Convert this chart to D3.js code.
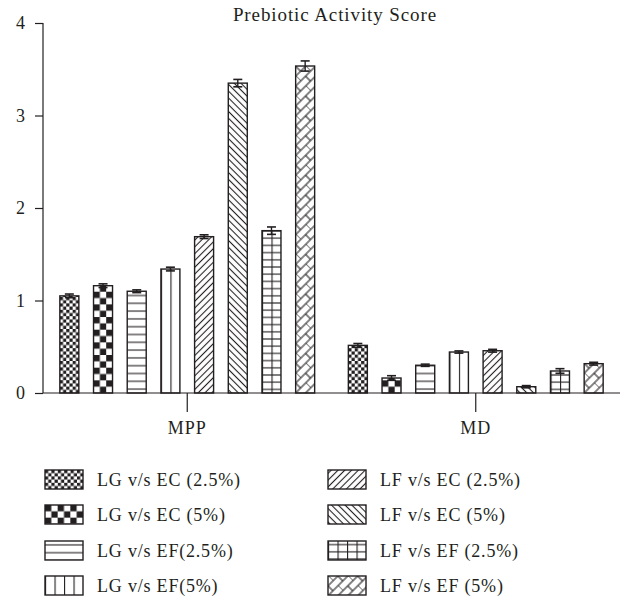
<!DOCTYPE html>
<html>
<head>
<meta charset="utf-8">
<script src="https://cdn.jsdelivr.net/npm/d3@7"></script>
<style>
  html, body { margin: 0; padding: 0; background: #fff; }
  svg { display: block; }
  text { font-family: "Liberation Serif", "DejaVu Serif", serif; fill: #231f20; }
</style>
</head>
<body>
<svg id="chart" width="622" height="599"></svg>
<script>
// Groups on the x axis
const groups = ["MPP", "MD"];
// Comparison series, in drawing order
const series = [
  "LG v/s EC (2.5%)", "LG v/s EC (5%)", "LG v/s EF(2.5%)", "LG v/s EF(5%)",
  "LF v/s EC (2.5%)", "LF v/s EC (5%)", "LF v/s EF (2.5%)", "LF v/s EF (5%)"
];
// Mean scores per series for each group
const mppValues = [1.05, 1.16, 1.10, 1.34, 1.69, 3.35, 1.755, 3.535];
const mdValues  = [0.515, 0.162, 0.30, 0.443, 0.457, 0.068, 0.238, 0.317];
// Error half-widths
const mppErrors = [0.02, 0.02, 0.015, 0.02, 0.02, 0.04, 0.04, 0.055];
const mdErrors  = [0.02, 0.025, 0.012, 0.012, 0.015, 0.012, 0.025, 0.015];
// Y axis ticks
const yTicks = [0, 1, 2, 3, 4];
const title = "Prebiotic Activity Score";

const values = { MPP: mppValues, MD: mdValues };
const errors = { MPP: mppErrors, MD: mdErrors };

const svg = d3.select("#chart");
const ink = "#231f20";

const x0 = d3.scaleBand().domain(groups).range([43, 620]).paddingInner(0).paddingOuter(0);
const x1 = d3.scaleBand().domain(series).range([0, x0.bandwidth()]).paddingInner(0.436).paddingOuter(0.5);
const y = d3.scaleLinear().domain([0, 4]).range([393, 23]);

// ---------- fill patterns ----------
const defs = svg.append("defs");
const patIds = ["p-smallcheck", "p-bigcheck", "p-hlines", "p-vlines", "p-fdiag", "p-bdiag", "p-grid", "p-brick"];

function pattern(id, w, h, transform) {
  const p = defs.append("pattern").attr("id", id)
    .attr("patternUnits", "userSpaceOnUse")
    .attr("width", w).attr("height", h);
  if (transform) p.attr("patternTransform", transform);
  p.append("rect").attr("width", w).attr("height", h).attr("fill", "#fff");
  return p;
}
const lw = 1.1;

// small checkerboard
{
  const c = 3.2;
  const p = pattern(patIds[0], 2 * c, 2 * c);
  p.append("rect").attr("x", 0).attr("y", 0).attr("width", c).attr("height", c).attr("fill", ink);
  p.append("rect").attr("x", c).attr("y", c).attr("width", c).attr("height", c).attr("fill", ink);
}
// large checkerboard
{
  const c = 6.33;
  const p = pattern(patIds[1], 2 * c, 2 * c);
  p.append("rect").attr("x", 0).attr("y", 0).attr("width", c).attr("height", c).attr("fill", ink);
  p.append("rect").attr("x", c).attr("y", c).attr("width", c).attr("height", c).attr("fill", ink);
}
// horizontal lines
{
  const s = 7.8;
  const p = pattern(patIds[2], 10, s);
  p.append("line").attr("x1", 0).attr("x2", 10).attr("y1", s / 2).attr("y2", s / 2)
    .attr("stroke", ink).attr("stroke-width", lw);
}
// vertical lines
{
  const s = 9.5;
  const p = pattern(patIds[3], s, 10);
  p.append("line").attr("x1", 0).attr("x2", 0).attr("y1", 0).attr("y2", 10)
    .attr("stroke", ink).attr("stroke-width", lw * 2);
}
// forward diagonal "/"
{
  const s = 4.8;
  const p = pattern(patIds[4], s, 10, "rotate(45)");
  p.append("line").attr("x1", s / 2).attr("x2", s / 2).attr("y1", 0).attr("y2", 10)
    .attr("stroke", ink).attr("stroke-width", lw);
}
// backward diagonal "\"
{
  const s = 4.8;
  const p = pattern(patIds[5], s, 10, "rotate(-45)");
  p.append("line").attr("x1", s / 2).attr("x2", s / 2).attr("y1", 0).attr("y2", 10)
    .attr("stroke", ink).attr("stroke-width", lw);
}
// grid
{
  const sx = 9.5, sy = 7.2;
  const p = pattern(patIds[6], sx, sy);
  p.append("line").attr("x1", 0).attr("x2", 0).attr("y1", 0).attr("y2", sy)
    .attr("stroke", ink).attr("stroke-width", lw * 2);
  p.append("line").attr("x1", 0).attr("x2", sx).attr("y1", sy / 2).attr("y2", sy / 2)
    .attr("stroke", ink).attr("stroke-width", lw);
}
// diagonal brick
{
  const s = 7, w = 14;
  const p = pattern(patIds[7], w, 2 * s, "rotate(-45)");
  const add = (x1, y1, x2, y2) => p.append("line")
    .attr("x1", x1).attr("y1", y1).attr("x2", x2).attr("y2", y2)
    .attr("stroke", ink).attr("stroke-width", lw);
  add(0, 0, w, 0);
  add(0, s, w, s);
  add(0, 2 * s, w, 2 * s);
  add(0, 0, 0, s);
  add(w / 2, s, w / 2, 2 * s);
}

// ---------- title ----------
svg.append("text")
  .attr("x", 335).attr("y", 21)
  .attr("text-anchor", "middle")
  .attr("font-size", 19)
  .attr("letter-spacing", 0.9)
  .text(title);

// ---------- y axis ----------
const yAxis = svg.append("g").attr("transform", "translate(43,0)")
  .call(d3.axisLeft(y).tickValues(yTicks).tickSize(8).tickPadding(10).tickFormat(d3.format("d")));
yAxis.select(".domain").attr("stroke", ink).attr("stroke-width", 1.2).attr("d", "M0,23V393");
yAxis.selectAll(".tick line").attr("stroke", ink).attr("stroke-width", 1.2);
yAxis.selectAll(".tick text").attr("font-size", 18).attr("fill", ink)
  .attr("font-family", "Liberation Serif, serif");

// ---------- bars ----------
const bars = svg.append("g");
groups.forEach(g => {
  series.forEach((s, i) => {
    const v = values[g][i], e = errors[g][i];
    const bx = x0(g) + x1(s);
    const bw = x1.bandwidth();
    const bar = bars.append("g").attr("transform", `translate(${bx},${y(0)})`);
    bar.append("rect")
      .attr("x", 0).attr("y", y(v) - y(0))
      .attr("width", bw).attr("height", y(0) - y(v))
      .attr("fill", `url(#${patIds[i]})`)
      .attr("stroke", ink).attr("stroke-width", 1.4);
    // error bar
    const cx = bw / 2, capW = 4.5;
    const top = y(v + e) - y(0), bot = y(v - e) - y(0);
    bar.append("line").attr("x1", cx).attr("x2", cx).attr("y1", top).attr("y2", bot)
      .attr("stroke", ink).attr("stroke-width", 1.4);
    [top, bot].forEach(yy => bar.append("line")
      .attr("x1", cx - capW).attr("x2", cx + capW).attr("y1", yy).attr("y2", yy)
      .attr("stroke", ink).attr("stroke-width", 1.6));
  });
});

// ---------- x axis ----------
const xAxis = svg.append("g").attr("transform", `translate(0,${y(0)})`)
  .call(d3.axisBottom(x0).tickSize(19).tickPadding(9));
xAxis.select(".domain").attr("stroke", ink).attr("stroke-width", 1.2).attr("d", "M43,0H620");
xAxis.selectAll(".tick line").attr("stroke", ink).attr("stroke-width", 1.2);
xAxis.selectAll(".tick text").attr("font-size", 18).attr("letter-spacing", 1).attr("fill", ink)
  .attr("font-family", "Liberation Serif, serif");

// ---------- legend ----------
const legend = svg.append("g");
const colX = [45, 328];
const rowY = [470, 505, 541, 576];
series.forEach((s, i) => {
  const col = Math.floor(i / 4), row = i % 4;
  const item = legend.append("g").attr("transform", `translate(${colX[col]},${rowY[row]})`);
  item.append("rect").attr("width", 38).attr("height", 19)
    .attr("fill", `url(#${patIds[i]})`)
    .attr("stroke", ink).attr("stroke-width", 1.4);
  item.append("text").attr("x", 52).attr("y", 16)
    .attr("font-size", 18)
    .attr("letter-spacing", 0.8)
    .text(s);
});
</script>
</body>
</html>
